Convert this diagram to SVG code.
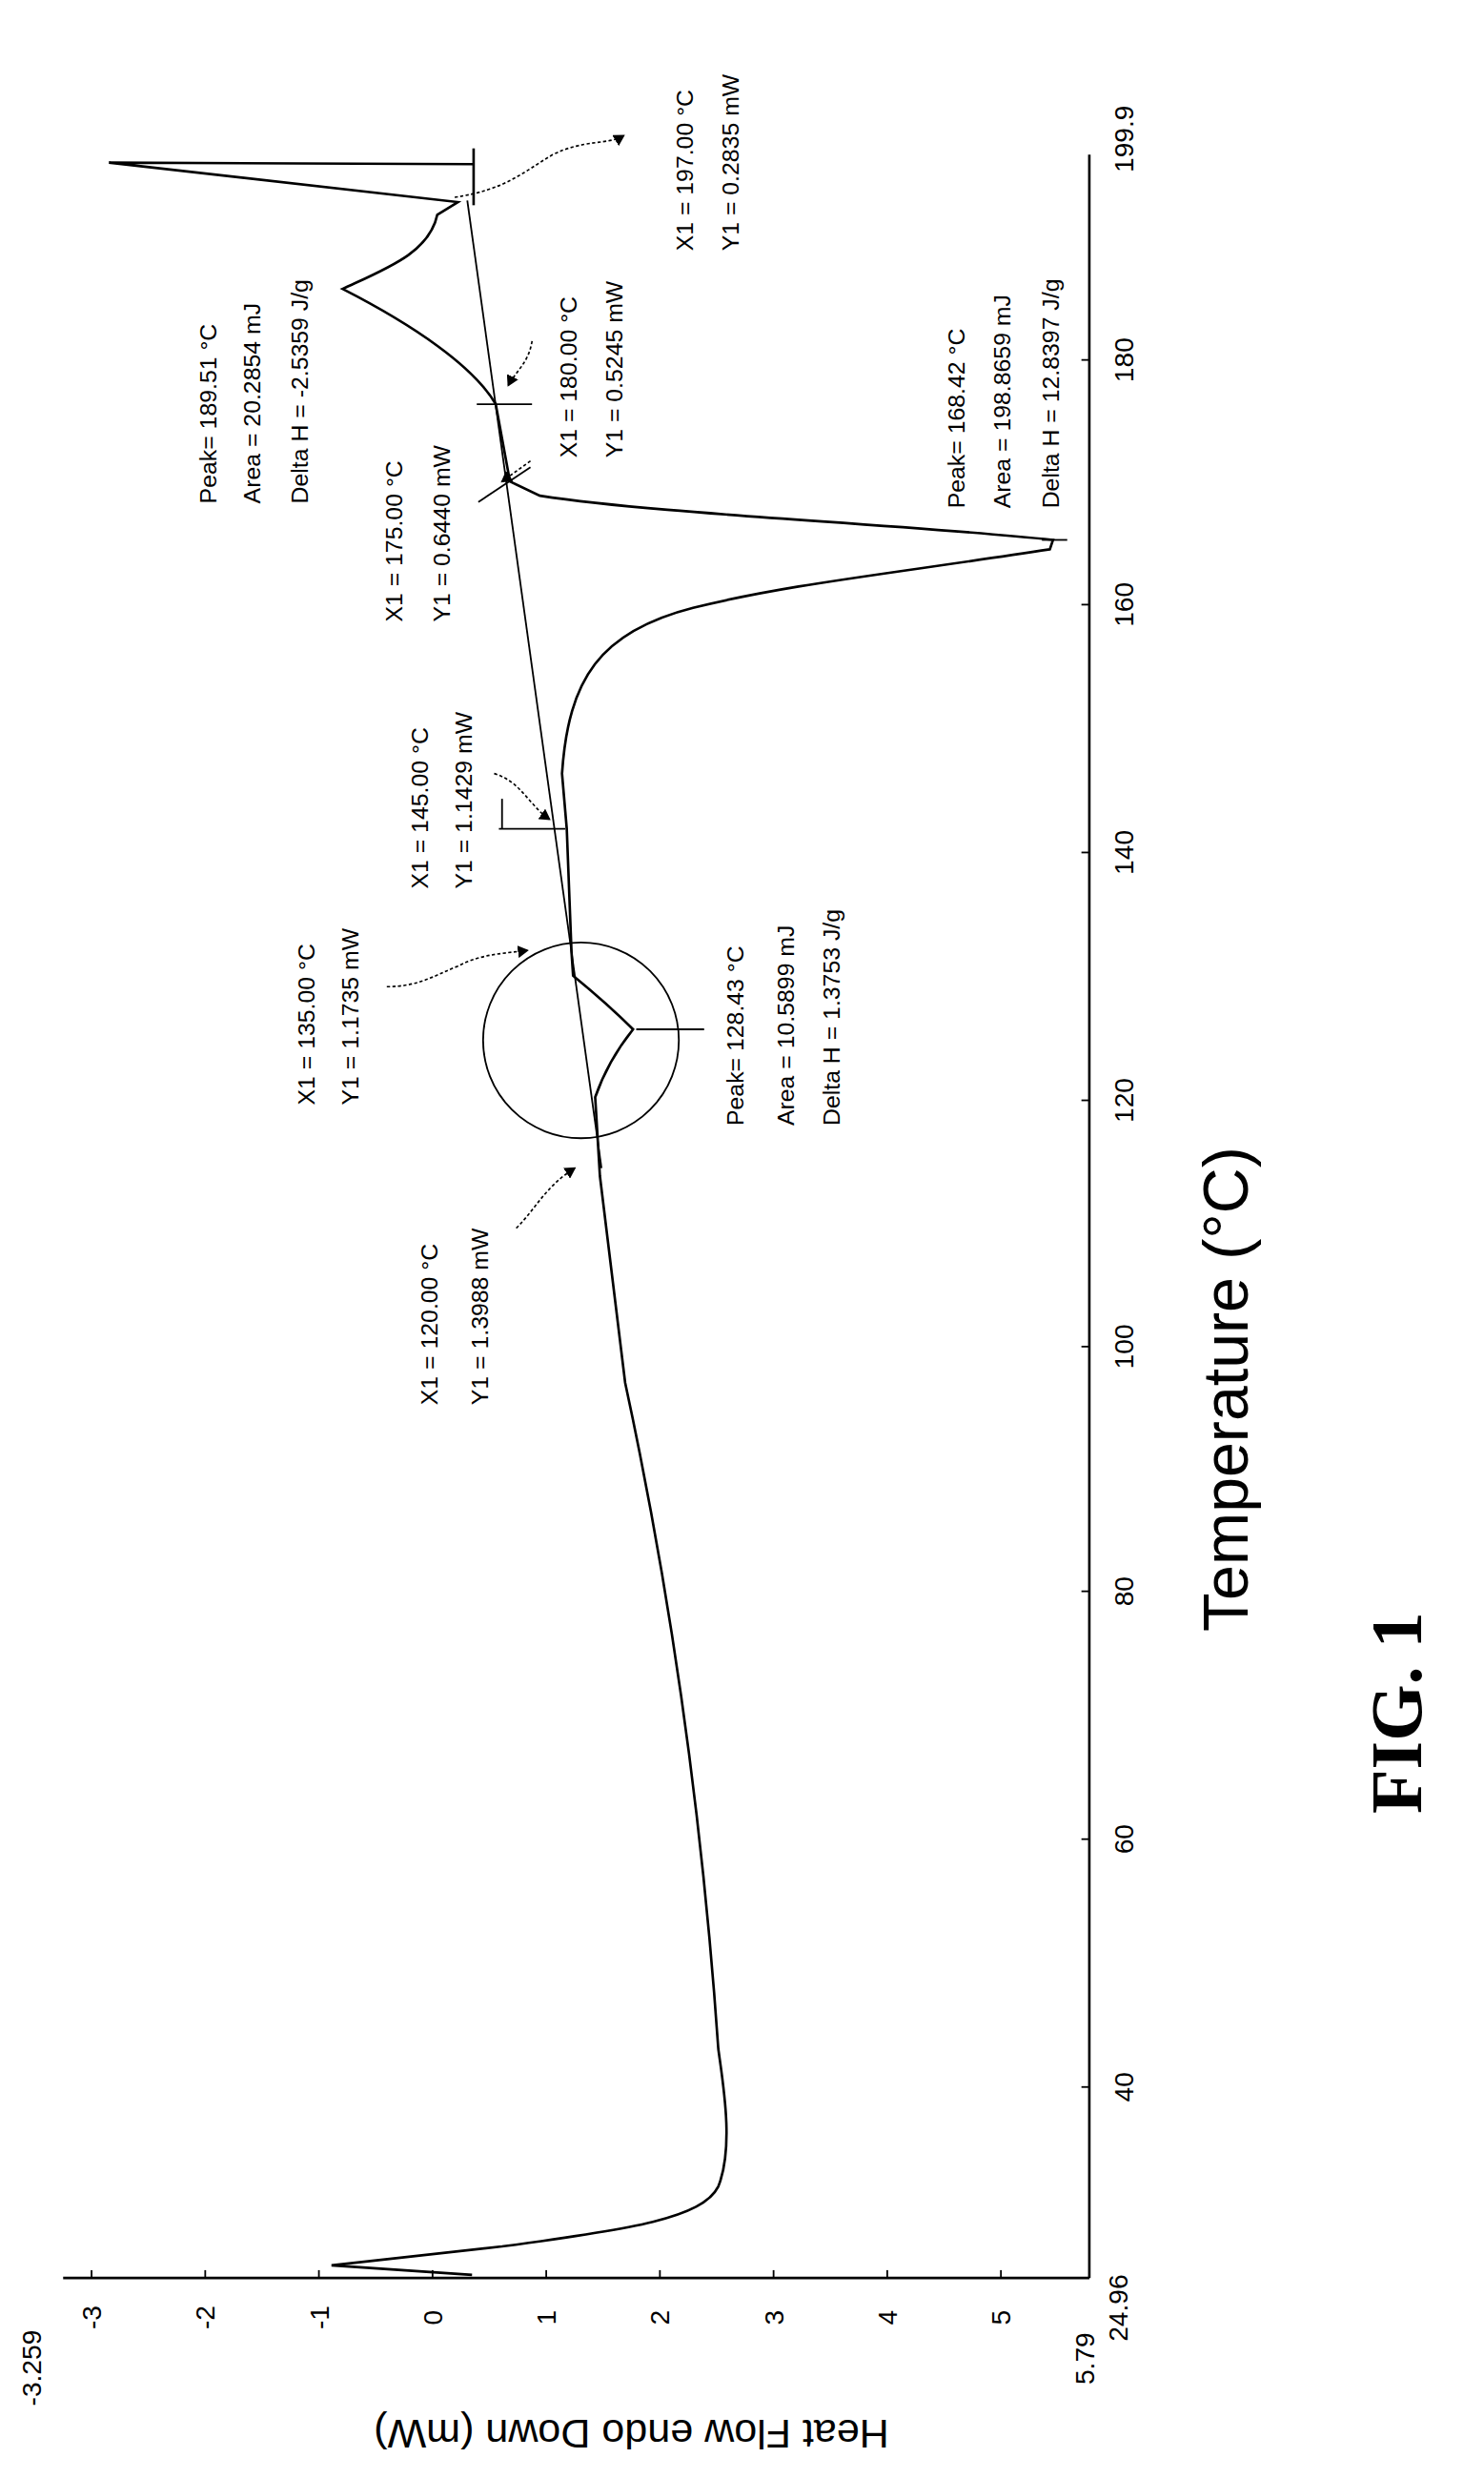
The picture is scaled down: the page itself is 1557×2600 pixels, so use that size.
<svg xmlns="http://www.w3.org/2000/svg" width="1557" height="2600" viewBox="0 0 1557 2600">
<style>
.ln{fill:none;stroke:#000;stroke-width:1.6}
.th{fill:none;stroke:#000;stroke-width:1.1}
.dt{fill:none;stroke:#000;stroke-width:1;stroke-dasharray:2 1.5}
.t{font-family:"Liberation Sans Narrow","Liberation Sans",sans-serif;font-size:15px;fill:#000}
.tk{font-family:"Liberation Sans",sans-serif;font-size:17px;fill:#000}
</style>
<defs>
<marker id="ah" markerWidth="8" markerHeight="8" refX="6" refY="4" orient="auto" markerUnits="userSpaceOnUse"><path d="M0,0 L7,4 L0,8 z" fill="#000"/></marker>
</defs>
<rect width="1557" height="2600" fill="#fff"/>
<g transform="scale(1.6564)">
<g id="axes">
<line class="ln" x1="690" y1="98" x2="690" y2="1443"/>
<line class="ln" x1="40" y1="1443" x2="690" y2="1443"/>
<g class="th">
<line x1="690" y1="228" x2="685" y2="228"/><line x1="690" y1="383" x2="685" y2="383"/><line x1="690" y1="540" x2="685" y2="540"/><line x1="690" y1="697" x2="685" y2="697"/><line x1="690" y1="853" x2="685" y2="853"/><line x1="690" y1="1008" x2="685" y2="1008"/><line x1="690" y1="1165" x2="685" y2="1165"/><line x1="690" y1="1322" x2="685" y2="1322"/>
<line x1="58" y1="1443" x2="58" y2="1438"/><line x1="130" y1="1443" x2="130" y2="1438"/><line x1="202" y1="1443" x2="202" y2="1438"/><line x1="274" y1="1443" x2="274" y2="1438"/><line x1="346" y1="1443" x2="346" y2="1438"/><line x1="418" y1="1443" x2="418" y2="1438"/><line x1="490" y1="1443" x2="490" y2="1438"/><line x1="562" y1="1443" x2="562" y2="1438"/><line x1="634" y1="1443" x2="634" y2="1438"/>
</g>
<g class="tk" text-anchor="middle">
<text transform="translate(718,88) rotate(-90)">199.9</text>
<text transform="translate(718,228) rotate(-90)">180</text>
<text transform="translate(718,383) rotate(-90)">160</text>
<text transform="translate(718,540) rotate(-90)">140</text>
<text transform="translate(718,697) rotate(-90)">120</text>
<text transform="translate(718,853) rotate(-90)">100</text>
<text transform="translate(718,1008) rotate(-90)">80</text>
<text transform="translate(718,1165) rotate(-90)">60</text>
<text transform="translate(718,1322) rotate(-90)">40</text>
<text transform="translate(714,1462) rotate(-90)">24.96</text>
<text transform="translate(26,1500) rotate(-90)">-3.259</text>
<text transform="translate(64,1468) rotate(-90)">-3</text>
<text transform="translate(136,1468) rotate(-90)">-2</text>
<text transform="translate(208,1468) rotate(-90)">-1</text>
<text transform="translate(280,1468) rotate(-90)">0</text>
<text transform="translate(352,1468) rotate(-90)">1</text>
<text transform="translate(424,1468) rotate(-90)">2</text>
<text transform="translate(496,1468) rotate(-90)">3</text>
<text transform="translate(568,1468) rotate(-90)">4</text>
<text transform="translate(640,1468) rotate(-90)">5</text>
<text transform="translate(693,1494) rotate(-90)">5.79</text>
</g>
<text transform="translate(790,880) rotate(-90)" text-anchor="middle" font-family="'Liberation Sans',sans-serif" font-size="40">Temperature (°C)</text>
<text transform="translate(400,1533) rotate(180)" text-anchor="middle" font-family="'Liberation Sans',sans-serif" font-size="26">Heat Flow endo Down (mW)</text>
<text transform="translate(900,1085) rotate(-90)" text-anchor="middle" font-family="'Liberation Serif',serif" font-weight="bold" font-size="46">FIG. 1</text>
</g>
<g id="curve">
<path class="ln" d="M299 1441 L210 1435 L318 1423 C400 1412 445 1405 455 1385 C465 1360 458 1320 455 1298 Q440 1080 396 876 L380 745 L377 695 Q385 672 401 652 Q385 636 363 618 L362 603 L359 525 L356 490 C360 430 380 400 439 385 C500 370 560 364 665 348 L667 342 C560 331 420 326 342 314 L323 305 L314 256 C300 232 262 206 217 183 C245 170 272 160 277 136 L290 128 L69 103 L300 104"/>
<line class="ln" x1="300" y1="94" x2="300" y2="130"/>
<line class="th" x1="296" y1="127" x2="381" y2="740"/>
<circle class="th" cx="368" cy="659" r="62"/>
</g>
<g id="connectors">
<path class="dt" d="M288 125 C320 120 330 110 350 98 C370 88 385 92 395 86" marker-end="url(#ah)"/>
<line class="th" x1="302" y1="256" x2="337" y2="256"/>
<path class="dt" d="M337 216 C335 230 326 236 322 244" marker-end="url(#ah)"/>
<path class="dt" d="M336 292 L318 305" marker-end="url(#ah)"/>
<line class="th" x1="303" y1="318" x2="336" y2="296"/>
<line class="th" x1="316" y1="525" x2="358" y2="525"/>
<line class="th" x1="318" y1="506" x2="318" y2="525"/>
<path class="dt" d="M313 490 C330 495 335 510 348 519" marker-end="url(#ah)"/>
<path class="dt" d="M245 625 C265 625 275 618 290 612 C305 604 320 604 334 602" marker-end="url(#ah)"/>
<path class="dt" d="M327 778 C340 765 345 752 364 740" marker-end="url(#ah)"/>
<line class="th" x1="403" y1="652" x2="446" y2="652"/>
<line class="th" x1="660" y1="342" x2="676" y2="342"/>
</g>
<g id="labels" class="t">
<text transform="translate(439,159) rotate(-90)">X1 = 197.00 °C</text>
<text transform="translate(468,159) rotate(-90)">Y1 = 0.2835 mW</text>
<text transform="translate(137,319) rotate(-90)">Peak= 189.51 °C</text>
<text transform="translate(165,319) rotate(-90)">Area = 20.2854 mJ</text>
<text transform="translate(195,319) rotate(-90)">Delta H = -2.5359 J/g</text>
<text transform="translate(365,290) rotate(-90)">X1 = 180.00 °C</text>
<text transform="translate(394,290) rotate(-90)">Y1 = 0.5245 mW</text>
<text transform="translate(255,394) rotate(-90)">X1 = 175.00 °C</text>
<text transform="translate(285,394) rotate(-90)">Y1 = 0.6440 mW</text>
<text transform="translate(611,322) rotate(-90)">Peak= 168.42 °C</text>
<text transform="translate(640,322) rotate(-90)">Area = 198.8659 mJ</text>
<text transform="translate(671,322) rotate(-90)">Delta H = 12.8397 J/g</text>
<text transform="translate(271,563) rotate(-90)">X1 = 145.00 °C</text>
<text transform="translate(299,563) rotate(-90)">Y1 = 1.1429 mW</text>
<text transform="translate(199,700) rotate(-90)">X1 = 135.00 °C</text>
<text transform="translate(227,700) rotate(-90)">Y1 = 1.1735 mW</text>
<text transform="translate(471,713) rotate(-90)">Peak= 128.43 °C</text>
<text transform="translate(503,713) rotate(-90)">Area = 10.5899 mJ</text>
<text transform="translate(532,713) rotate(-90)">Delta H = 1.3753 J/g</text>
<text transform="translate(277,890) rotate(-90)">X1 = 120.00 °C</text>
<text transform="translate(309,890) rotate(-90)">Y1 = 1.3988 mW</text>
</g>
</g>
</svg>
